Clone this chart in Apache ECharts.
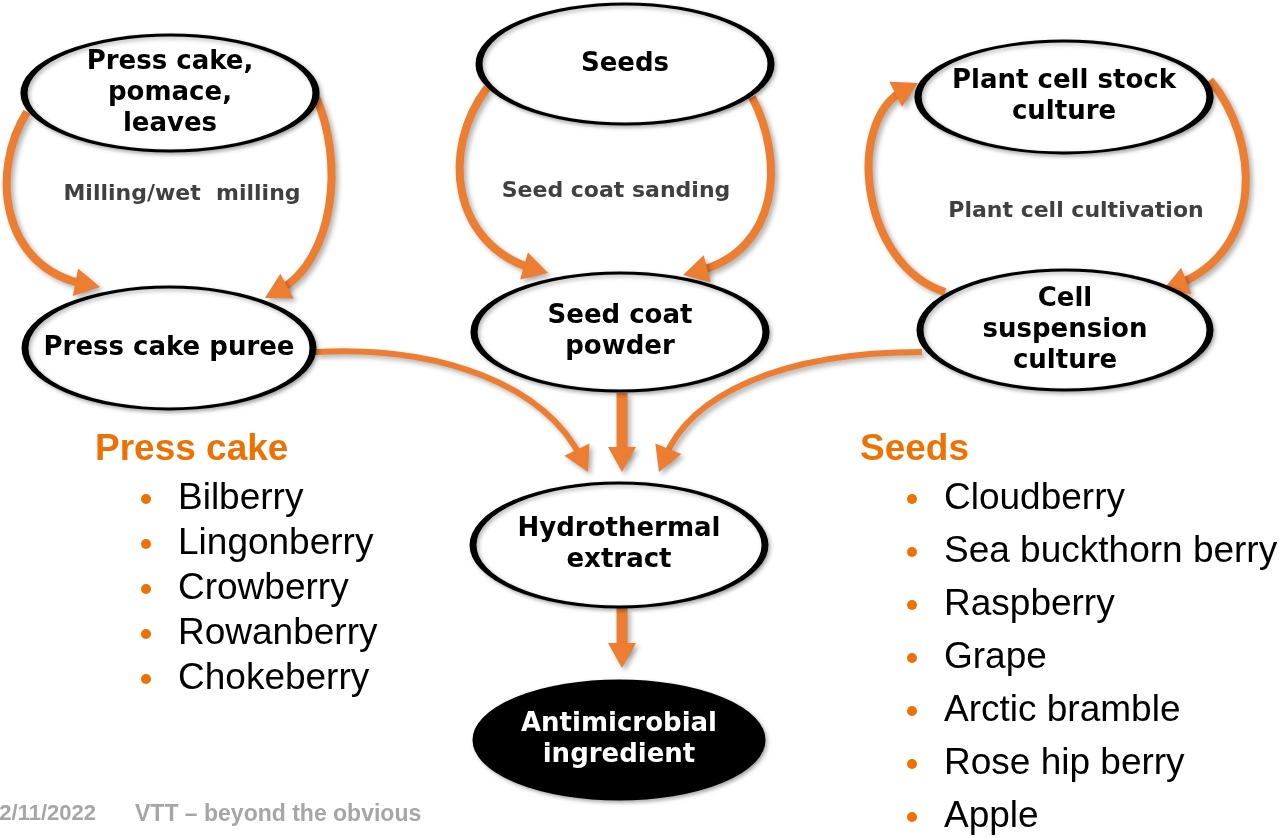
<!DOCTYPE html>
<html>
<head>
<meta charset="utf-8">
<script src="https://cdn.jsdelivr.net/npm/echarts@6/dist/echarts.min.js"></script>
<style>
  html, body { margin: 0; padding: 0; background: #fff; }
  #chart { width: 1282px; height: 838px; }
</style>
</head>
<body>
<div id="chart"></div>
<script>
// diagram content
const nodeNames = [
  'Press cake,\npomace,\nleaves',
  'Press cake puree',
  'Seeds',
  'Seed coat\npowder',
  'Plant cell stock\nculture',
  'Cell\nsuspension\nculture',
  'Hydrothermal\nextract',
  'Antimicrobial\ningredient'
];
const stepNames = ['Milling/wet  milling', 'Seed coat sanding', 'Plant cell cultivation'];
const pressCakeTitle = 'Press cake';
const pressCakeItems = ['Bilberry', 'Lingonberry', 'Crowberry', 'Rowanberry', 'Chokeberry'];
const seedsTitle = 'Seeds';
const seedItems = ['Cloudberry', 'Sea buckthorn berry', 'Raspberry', 'Grape', 'Arctic bramble', 'Rose hip berry', 'Apple'];
const footerDate = '2/11/2022';
const footerText = 'VTT \u2013 beyond the obvious';

// layout (pixel space of the slide)
const nodeLayout = [
  [170, 93, 292, 116],
  [169, 348, 288, 122],
  [625, 64, 292, 120],
  [620, 332, 292, 118],
  [1064, 97, 292, 112],
  [1065, 330, 290, 120],
  [619, 545, 292, 124],
  [619, 740, 286, 118]
];
const stepLayout = [[182, 194], [616, 191], [1076, 211]];
// arrows: start, control 1, control 2, tip, stroke width
const arrows = [
  [27, 112, -10, 170, 0, 268, 100, 287, 8],
  [315, 95, 345, 160, 335, 260, 265, 298, 8],
  [487, 88, 440, 150, 452, 245, 548, 273, 8],
  [752, 97, 785, 160, 780, 250, 683, 275, 8],
  [945, 292, 860, 265, 845, 120, 918, 83, 8],
  [1210, 80, 1260, 140, 1265, 250, 1163, 290, 8],
  [315, 352, 440, 345, 545, 385, 588, 472, 6],
  [622, 393, 622, 393, 622, 393, 622, 472, 11],
  [922, 352, 780, 352, 690, 395, 659, 472, 6],
  [622, 608, 622, 608, 622, 608, 622, 668, 11]
];

const ORANGE = '#ED7D31';
const TITLE_ORANGE = '#EE7203';

const chart = echarts.init(document.getElementById('chart'));

function renderArrow(params, api) {
  const p0 = api.coord([api.value(0), api.value(1)]);
  const c1 = api.coord([api.value(2), api.value(3)]);
  const c2 = api.coord([api.value(4), api.value(5)]);
  const tip = api.coord([api.value(6), api.value(7)]);
  const width = api.value(8);
  let dx = tip[0] - c2[0], dy = tip[1] - c2[1];
  const len = Math.hypot(dx, dy) || 1;
  dx /= len; dy /= len;
  const headL = 25, headW = 14;
  const base = [tip[0] - dx * headL, tip[1] - dy * headL];
  const end = [tip[0] - dx * headL * 0.6, tip[1] - dy * headL * 0.6];
  const shadow = { shadowBlur: 5, shadowColor: 'rgba(0,0,0,0.3)', shadowOffsetX: 3, shadowOffsetY: 3 };
  return {
    type: 'group',
    children: [
      {
        type: 'bezierCurve',
        shape: { x1: p0[0], y1: p0[1], cpx1: c1[0], cpy1: c1[1], cpx2: c2[0], cpy2: c2[1], x2: end[0], y2: end[1] },
        style: Object.assign({ stroke: ORANGE, lineWidth: width, fill: 'none' }, shadow)
      },
      {
        type: 'polygon',
        shape: { points: [tip, [base[0] - dy * headW, base[1] + dx * headW], [base[0] + dy * headW, base[1] - dx * headW]] },
        style: Object.assign({ fill: ORANGE }, shadow)
      }
    ]
  };
}

const nodeData = nodeNames.map((name, i) => {
  const [x, y, w, h] = nodeLayout[i];
  const dark = i === nodeNames.length - 1;
  return {
    name: name,
    value: [x, y],
    symbolSize: [w, h],
    itemStyle: { color: dark ? '#000' : '#fff' },
    label: { color: dark ? '#fff' : '#000' }
  };
});

const bulletData = [];
pressCakeItems.forEach((name, i) => bulletData.push({ name: name, value: [146, 499 + i * 45] }));
seedItems.forEach((name, i) => bulletData.push({ name: name, value: [912, 499 + i * 53] }));

const textData = [];
stepNames.forEach((name, i) => textData.push({ name: name, value: stepLayout[i] }));

const option = {
  animation: false,
  grid: { left: 0, right: 0, top: 0, bottom: 0 },
  xAxis: { type: 'value', min: 0, max: 1282, show: false },
  yAxis: { type: 'value', min: 0, max: 838, inverse: true, show: false },
  series: [
    {
      type: 'custom',
      renderItem: renderArrow,
      data: arrows,
      z: 1,
      silent: true
    },
    {
      type: 'scatter',
      symbol: 'circle',
      data: nodeData,
      z: 3,
      silent: true,
      itemStyle: {
        opacity: 1,
        borderColor: '#000',
        borderWidth: 4.5,
        shadowBlur: 4,
        shadowColor: 'rgba(0,0,0,0.3)',
        shadowOffsetX: 2,
        shadowOffsetY: 2
      },
      label: {
        show: true,
        position: 'inside',
        formatter: '{b}',
        fontFamily: 'DejaVu Sans',
        fontWeight: 'bold',
        fontSize: 26,
        lineHeight: 31
      }
    },
    {
      type: 'scatter',
      data: textData,
      symbolSize: 1,
      itemStyle: { color: 'rgba(0,0,0,0)', opacity: 1 },
      z: 3,
      silent: true,
      label: {
        show: true,
        position: 'inside',
        formatter: '{b}',
        fontFamily: 'DejaVu Sans',
        fontWeight: 'bold',
        fontSize: 22,
        color: '#404040'
      }
    },
    {
      type: 'scatter',
      data: bulletData,
      symbol: 'circle',
      symbolSize: 10,
      itemStyle: { color: TITLE_ORANGE, opacity: 1 },
      z: 3,
      silent: true,
      label: {
        show: true,
        position: 'right',
        distance: 27,
        formatter: '{b}',
        fontFamily: 'Liberation Sans',
        fontSize: 37,
        color: '#000'
      }
    }
  ],
  graphic: [
    {
      type: 'text', left: 95, top: 431,
      style: { text: pressCakeTitle, fill: TITLE_ORANGE, font: 'bold 37px "Liberation Sans"' }
    },
    {
      type: 'text', left: 860, top: 431,
      style: { text: seedsTitle, fill: TITLE_ORANGE, font: 'bold 37px "Liberation Sans"' }
    },
    {
      type: 'text', right: 1282 - 96, top: 803,
      style: { text: footerDate, fill: '#A6A6A6', font: 'bold 22px "Liberation Sans"' }
    },
    {
      type: 'text', left: 135, top: 803,
      style: { text: footerText, fill: '#A6A6A6', font: 'bold 23px "Liberation Sans"' }
    }
  ]
};

chart.setOption(option);
</script>
</body>
</html>
